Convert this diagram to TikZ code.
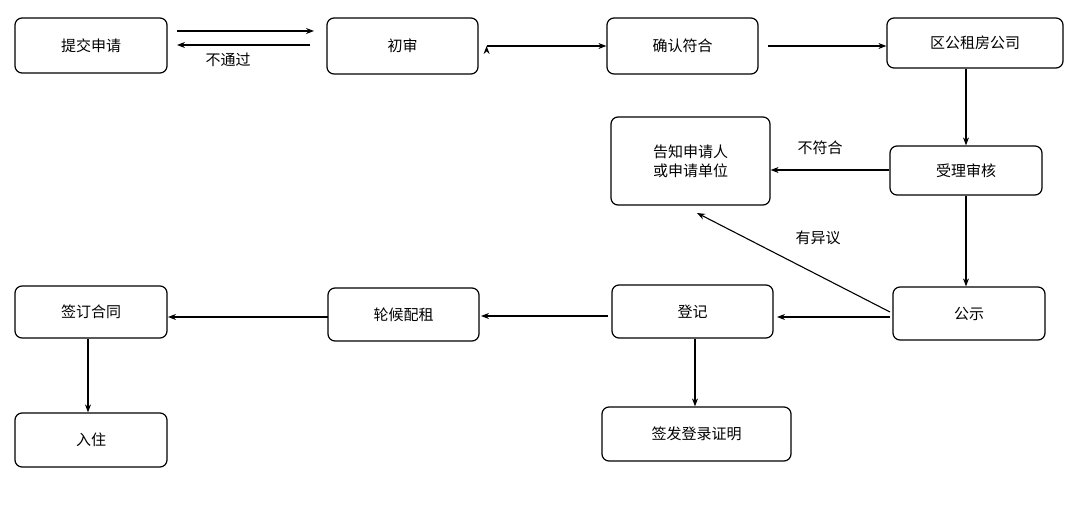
\documentclass[tikz,border=0pt]{standalone}
\usepackage{fontspec}
\setmainfont{Noto Sans CJK SC}
\usetikzlibrary{arrows.meta}
\begin{document}
\begin{tikzpicture}[x=1pt,y=-1pt,
 box/.style={draw,line width=1.2pt,rounded corners=7pt,inner sep=0pt,font=\fontsize{15}{19}\selectfont,align=center},
 arr/.style={-{Stealth[length=8pt,width=6pt]},line width=1.1pt},
 lab/.style={font=\fontsize{15}{18}\selectfont,inner sep=1pt}]
\useasboundingbox (0,0) rectangle (1080,510);
\newcommand{\bx}[6]{\node[box,minimum width=#4pt-#2pt,minimum height=#5pt-#3pt] (#1) at ({(#2+#4)/2},{(#3+#5)/2}) {#6};}
\bx{a}{15}{18}{167}{73}{提交申请}
\bx{b}{327}{18}{478}{74}{初审}
\bx{c}{607}{18}{758}{74}{确认符合}
\bx{d}{887}{18}{1063}{68}{区公租房公司}
\bx{e}{611}{117}{770}{205}{告知申请人\\或申请单位}
\bx{f}{890}{146}{1042}{195}{受理审核}
\bx{g}{893}{287}{1045}{340}{公示}
\bx{h}{612}{285}{773}{338}{登记}
\bx{i}{328}{288}{479}{341}{轮候配租}
\bx{j}{15}{286}{167}{338}{签订合同}
\bx{k}{15}{413}{167}{467}{入住}
\bx{l}{602}{407}{791}{461}{签发登录证明}
\coordinate (a1) at (177,31); \coordinate (b1) at (314,31);
\coordinate (b2) at (310,45); \coordinate (a2) at (177,45);
\draw[arr] (a1) -- (b1);
\draw[arr] (b2) -- (a2);
\node[lab] (t1) at (228,60) {不通过};
\draw[arr] (b.east|-0,46) ++(8,0) coordinate (b3);
\draw[arr] (b3) -- (c.west|-b3);
\coordinate (c3) at (768,46);
\draw[arr] (c3) -- (d.west|-c3);
\draw[arr] (d.south-|966,0) -- (f.north-|966,0);
\draw[arr] (f.west|-0,170) -- (e.east|-0,170);
\node[lab] (t2) at (820,148) {不符合};
\draw[arr] (f.south-|966,0) -- (g.north-|966,0);
\coordinate (g1) at (890,312); \coordinate (e1) at (697,213);
\draw[arr] (g1) -- (e1);
\node[lab] (t3) at (818,238) {有异议};
\coordinate (g2) at (890,317); \coordinate (h2) at (777,317);
\draw[arr] (g2) -- (h2);
\coordinate (h3) at (608,316); \coordinate (i3) at (481,316);
\draw[arr] (h3) -- (i3);
\coordinate (i4) at (328,317); \coordinate (j4) at (168,317);
\draw[arr] (i4) -- (j4);
\draw[arr] (j.south-|88,0) -- (k.north-|88,0);
\draw[arr] (h.south-|695,0) -- (l.north-|695,0);
\end{tikzpicture}
\end{document}
